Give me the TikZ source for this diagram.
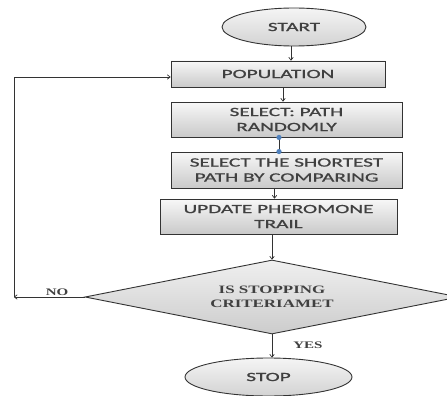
\documentclass[tikz,border=0pt]{standalone}
\usepackage{fontspec}
\setmainfont{Liberation Serif}
\newfontfamily\calfont[FakeStretch=1.7,FakeBold=1.2]{Carlito}
\newfontfamily\serfont[FakeStretch=1.5]{Liberation Serif Bold}
\usetikzlibrary{shapes.geometric,arrows.meta}
\definecolor{linec}{HTML}{333333}
\definecolor{textc}{HTML}{404040}
\definecolor{dotblue}{HTML}{4F81BD}
\begin{document}
\begin{tikzpicture}[x=1pt,y=-1pt,
  box/.style={draw=linec, line width=0.9pt, top color=gray!6, bottom color=gray!42,
    font=\calfont\fontsize{12.5}{15}\selectfont, text=textc, align=center, inner sep=0pt},
  term/.style={ellipse, draw=linec, line width=0.9pt, top color=gray!8, bottom color=gray!35,
    font=\calfont\fontsize{12.5}{15}\selectfont, text=textc, inner sep=0pt},
  dec/.style={diamond, draw=linec, line width=0.9pt, top color=gray!12, bottom color=gray!40,
    font=\serfont\fontsize{11.3}{14}\selectfont, text=textc, align=center, inner sep=0pt, aspect=5},
  lbl/.style={font=\serfont\fontsize{10}{12}\selectfont, text=textc, inner sep=0pt},
  arr/.style={-{To[length=3.5pt,width=5pt]}, draw=linec, line width=0.7pt},
  ln/.style={draw=linec, line width=0.7pt},
  bdot/.style={fill=dotblue}]
\useasboundingbox (0,0) rectangle (447,396);
\node[term, minimum width=144, minimum height=38] (start) at (294,27) {START};
\node[box, minimum width=214, minimum height=26] (pop) at (278,74) {POPULATION};
\node[box, minimum width=231, minimum height=35] (sel) at (286.5,119.5) {SELECT: PATH\\RANDOMLY};
\node[box, minimum width=231, minimum height=36] (short) at (286.5,170) {SELECT THE SHORTEST\\PATH BY COMPARING};
\node[box, minimum width=237, minimum height=35] (upd) at (278.5,216.5) {UPDATE PHEROMONE\\TRAIL};
\node[dec, minimum width=374, minimum height=74] (dia) at (272,297) {IS STOPPING\\CRITERIAMET};
\node[term, minimum width=167, minimum height=38] (stop) at (268.5,377) {STOP};
\coordinate (nc) at (14,297);
% connectors
\draw[arr] ([xshift=-3pt]start.south) -- ([xshift=-3pt]start.south |- pop.north);
\draw[arr] ([xshift=5pt]pop.south) -- ([xshift=5pt]pop.south |- sel.north);
\draw[ln] ([xshift=-7.5pt]sel.south) -- ([xshift=-7.5pt]sel.south |- short.north);
\fill[bdot] ([xshift=-7.5pt]sel.south) circle (2.6pt);
\fill[bdot] ([xshift=-7.5pt]sel.south |- short.north) circle (2.6pt);
\draw[arr] ([xshift=-12pt]short.south) -- ([xshift=-12pt]short.south |- upd.north);
\draw[arr] (dia.north |- upd.south) -- (dia.north);
\draw[arr] (dia.south) -- (dia.south |- stop.north);
\draw[arr] (dia.west) -- (nc);
\draw[arr] (nc) |- ([yshift=-3pt]pop.west);
\node[lbl] (no) at (57,292) {NO};
\node[lbl] (yes) at (308,345) {YES};
\end{tikzpicture}
\end{document}
